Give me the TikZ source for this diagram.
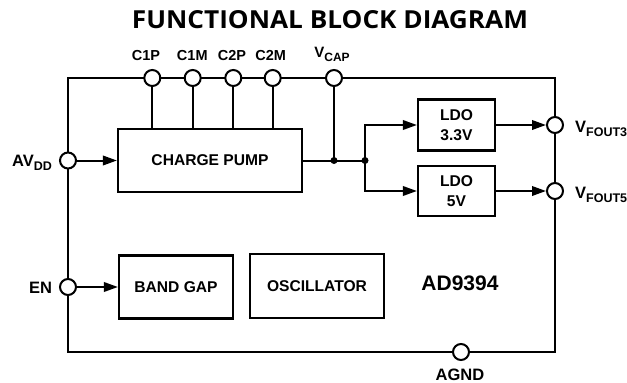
\documentclass[tikz,border=0pt]{standalone}
\usepackage{fontspec}
\setmainfont{Liberation Sans}
\newfontfamily\titlefont{Open Sans}
\usetikzlibrary{arrows.meta,calc}
\newcommand{\pinsub}[2][12.5]{\raisebox{-4pt}{\fontsize{#1}{#1}\selectfont #2}}
\begin{document}
\begin{tikzpicture}[x=1pt,y=-1pt,
  font=\bfseries\fontsize{16.5}{18}\selectfont,
  frame/.style={line width=2.8pt},
  blk/.style={draw,line width=2.2pt,inner sep=0pt,align=center,font=\bfseries\fontsize{15.6}{20}\selectfont},
  pin/.style={draw,circle,line width=2pt,fill=white,minimum width=16pt,minimum height=16pt,inner sep=0pt},
  wire/.style={line width=2pt},
  arr/.style={line width=2pt,-{Triangle[length=14pt,width=9.5pt]}},
  lbl/.style={inner sep=0pt},
  toplbl/.style={inner sep=0pt,anchor=base,font=\bfseries\fontsize{14.5}{16}\selectfont}]
\useasboundingbox (0,0) rectangle (627,383);
% title
\node[lbl,anchor=base] (title) at (330,28) {\resizebox{396pt}{18pt}{\titlefont\bfseries\fontsize{25}{28}\selectfont FUNCTIONAL BLOCK DIAGRAM}};
% frame
\draw[frame] (68,78) rectangle (555,352);
% blocks
\node[blk,minimum width=184pt,minimum height=63pt] (cp) at (210,160.5) {CHARGE PUMP};
\node[blk,minimum width=77pt,minimum height=51pt] (ldo3) at (456.5,125) {LDO\\3.3V};
\node[blk,minimum width=77pt,minimum height=50pt] (ldo5) at (456.5,191) {LDO\\5V};
\node[blk,minimum width=114pt,minimum height=63pt] (bg) at (176,287) {BAND GAP};
\node[blk,minimum width=134pt,minimum height=64pt] (osc) at (317,286) {OSCILLATOR};
\node[lbl,font=\bfseries\fontsize{21}{23}\selectfont] (part) at (460,283.5) {AD9394};
% junctions
\coordinate (j1) at (334,160.5);
\coordinate (j2) at (365,160.5);
% pins
\node[pin] (c1p) at (152.3,78) {};
\node[pin] (c1m) at (192.7,78) {};
\node[pin] (c2p) at (233.3,78) {};
\node[pin] (c2m) at (272.7,78) {};
\node[pin] (vcap) at (334,78) {};
\node[pin] (avdd) at (68,160.5) {};
\node[pin] (en) at (68,287) {};
\node[pin] (vf3) at (555,125) {};
\node[pin] (vf5) at (555,191) {};
\node[pin] (agnd) at (461,352) {};
% pin labels
\node[toplbl] (lc1p) at (146,60) {C1P};
\node[toplbl] (lc1m) at (192.3,60) {C1M};
\node[toplbl] (lc2p) at (232,60) {C2P};
\node[toplbl] (lc2m) at (270.7,60) {C2M};
\node[toplbl] (lvcap) at (332,57.5) {\fontsize{15}{16}\selectfont V\pinsub[12]{CAP}};
\node[lbl,anchor=base west] (lavdd) at (12,166) {AV\pinsub{DD}};
\node[lbl,anchor=base west] (len) at (29,293.5) {EN};
\node[lbl,anchor=base west] (lvf3) at (575,132.5) {V\pinsub{FOUT3}};
\node[lbl,anchor=base west] (lvf5) at (575,198.3) {V\pinsub{FOUT5}};
\node[lbl,anchor=base] (lagnd) at (460,380) {AGND};
% wires
\foreach \p in {c1p,c1m,c2p,c2m} \draw[wire] (\p) -- (\p |- cp.north);
\draw[wire] (vcap) -- (j1);
\draw[wire] (cp.east) -- (j2);
\draw[arr] (j2) |- (ldo3.west);
\draw[arr] (j2) |- (ldo5.west);
\draw[arr] (ldo3.east) -- (vf3);
\draw[arr] (ldo5.east) -- (vf5);
\draw[arr] (avdd) -- (cp.west);
\draw[arr] (en) -- (bg.west);
\fill (j1) circle (3.5pt);
\fill (j2) circle (3.5pt);
\end{tikzpicture}
\end{document}
